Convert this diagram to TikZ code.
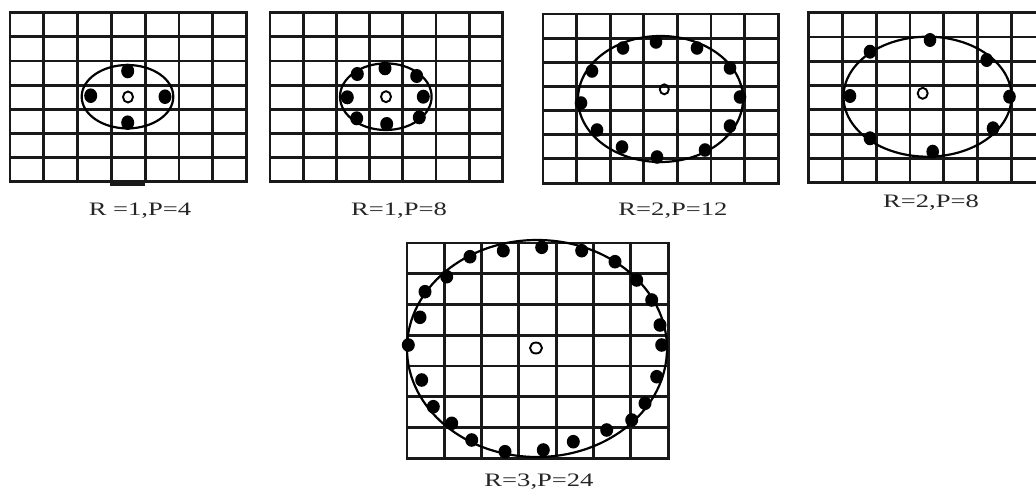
\documentclass[tikz,border=0pt]{standalone}
\usepackage{fontspec}
\setmainfont{Liberation Serif}
\newcommand\lbpgrid[4]{%
  \foreach \i in {0,...,7} \draw[gridline] ({#1+\i*#3},#2) -- ({#1+\i*#3},{#2+7*#4});
  \foreach \j in {0,...,7} \draw[gridline] (#1,{#2+\j*#4}) -- ({#1+7*#3},{#2+\j*#4});
}
\begin{document}
\begin{tikzpicture}[x=1pt,y=-1pt,
  gridline/.style={line width=2.9pt, line cap=rect, draw=black!90},
  ring/.style={line width=2.2pt},
  dot/.style={fill=black},
  hole/.style={draw, line width=1.9pt},
  caption/.style={font=\fontsize{19}{21}\selectfont, xscale=1.4, inner sep=0pt, text=black!85}
]
\useasboundingbox (0,0) rectangle (1036,495);

% ---------- Panel 1: R=1, P=4
\lbpgrid{10}{12.7}{33.8}{24.15}
\draw[gridline] (111.7,181.7) -- (111.7,184.5) -- (144,184.5) -- (144,181.7);
\draw[ring] (127.5,96.7) ellipse [x radius=45.8pt, y radius=31.7pt];
\foreach \p in {(127.7,71),(127.7,122.7),(90.7,95.7),(165,96.7)}
  \fill[dot] \p ellipse [x radius=6.5pt, y radius=7.3pt];
\draw[hole] (128,97) ellipse [x radius=5pt, y radius=5.5pt];
\node[caption] (c1) at (140,211) {R =1,P=4};

% ---------- Panel 2: R=1, P=8
\lbpgrid{270}{12.7}{33.2}{24.15}
\draw[ring] (385.8,96.7) ellipse [x radius=45.8pt, y radius=33.3pt];
\foreach \p in {(385,68.3),(386.7,124),(347.3,97.3),(423.3,96.7),(357.3,74),(416.7,76),(356.7,118.3),(419.3,117.3)}
  \fill[dot] \p ellipse [x radius=6.5pt, y radius=7pt];
\draw[hole] (386,96.7) ellipse [x radius=5pt, y radius=5.5pt];
\node[caption] (c2) at (399,211) {R=1,P=8};

% ---------- Panel 3: R=2, P=12
\lbpgrid{543}{14}{33.6}{24.15}
\draw[ring] (660.5,99) ellipse [x radius=82.5pt, y radius=63pt];
\foreach \p in {(656,42),(623,48),(697,48),(592,71),(730,68),(581,103),(740,97),(597,130),(730,126),(622,147),(705,150),(657,157)}
  \fill[dot] \p ellipse [x radius=6.3pt, y radius=6.8pt];
\draw[hole] (664.3,89.3) ellipse [x radius=4.5pt, y radius=5pt];
\node[caption] (c3) at (673,211) {R=2,P=12};

% ---------- Panel 4: R=2, P=8
\lbpgrid{808.3}{12.7}{33.9}{24.3}
\draw[ring] (927.5,96.7) ellipse [x radius=84pt, y radius=60pt];
\foreach \p in {(930,40),(870,51.7),(986.7,60),(850,96),(1009.5,96.7),(870,138.3),(993,128.3),(932.7,151.7)}
  \fill[dot] \p ellipse [x radius=6.3pt, y radius=7pt];
\draw[hole] (922.7,93.3) ellipse [x radius=5pt, y radius=5.5pt];
\node[caption] (c4) at (931,203) {R=2,P=8};

% ---------- Panel 5: R=3, P=24
\lbpgrid{407}{243}{37.3}{30.75}
\draw[ring] (537,348.5) ellipse [x radius=130pt, y radius=108.5pt];
\foreach \p in {(541.7,247.3),(503.3,250.7),(581.7,250.7),(470,256.7),(615,261.7),(446.7,276.7),(636.7,280),(425,291.7),(651.7,300),(420,317.3),(660,325),(408.3,345),(661.7,345),(421.7,380),(656.7,376.7),(433.3,406.7),(645,403.3),(451.7,423.3),(631.7,420),(471.7,440),(606.7,430),(505,451.7),(573.3,441.7),(543.3,450)}
  \fill[dot] \p ellipse [x radius=6.5pt, y radius=6.8pt];
\draw[hole] (536,348) ellipse [x radius=6pt, y radius=5.5pt];
\node[caption] (c5) at (539,482) {R=3,P=24};
\end{tikzpicture}
\end{document}
